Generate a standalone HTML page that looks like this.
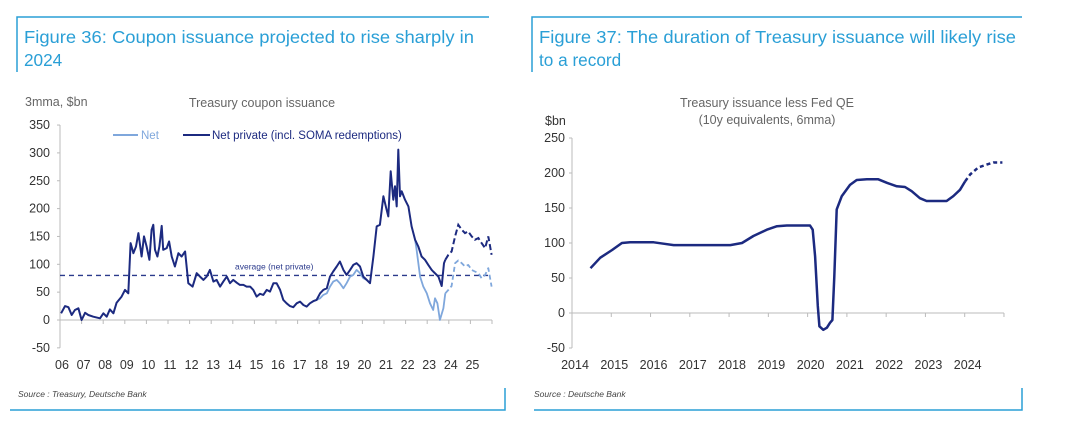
<!DOCTYPE html>
<html><head><meta charset="utf-8">
<style>
body{margin:0;background:#fff;width:1080px;height:423px;overflow:hidden;font-family:"Liberation Sans","Noto Sans CJK SC",sans-serif}
svg{position:absolute;left:0;top:0}
</style></head><body>
<svg id="s" width="1080" height="423" viewBox="0 0 1080 423">
<g stroke="#2a9fd6" stroke-width="1.5" fill="none">
<polyline points="17,72 17,17 489,17"/>
<polyline points="532,72 532,17 1022,17"/>
<polyline points="10,410 505,410 505,388"/>
<polyline points="534,410 1022,410 1022,388"/>
</g>
<g fill="#2a9fd6" font-size="17.2">
<text x="24" y="43" textLength="450" lengthAdjust="spacingAndGlyphs">Figure 36: Coupon issuance projected to rise sharply in</text>
<text x="24" y="66">2024</text>
<text x="539" y="43" textLength="477" lengthAdjust="spacingAndGlyphs">Figure 37: The duration of Treasury issuance will likely rise</text>
<text x="539" y="66">to a record</text>
</g>
<g fill="#666" font-size="12.5">
<text x="25" y="106">3mma, $bn</text>
<text x="262" y="107" text-anchor="middle">Treasury coupon issuance</text>
<text x="767" y="107" text-anchor="middle">Treasury issuance less Fed QE</text>
<text x="767" y="124" text-anchor="middle">(10y equivalents, 6mma)</text>
<text x="545" y="125" fill="#333">$bn</text>
</g>
<g font-size="8.5" font-style="italic" fill="#444">
<text x="18" y="397">Source : Treasury, Deutsche Bank</text>
<text x="534" y="397">Source : Deutsche Bank</text>
</g>
<g font-size="11.5">
<line x1="113" y1="135" x2="138" y2="135" stroke="#7fa7dc" stroke-width="2"/>
<text x="141" y="139" fill="#7fa7dc">Net</text>
<line x1="183" y1="135" x2="210" y2="135" stroke="#1c2a80" stroke-width="2"/>
<text x="212" y="139" fill="#1c2a80">Net private (incl. SOMA redemptions)</text>
</g>
<g id="L"></g><g id="R"></g>
</svg>
<script>
// Left chart data (x as years since 2006)
const leftYTicks=[350,300,250,200,150,100,50,0,-50];
const leftXLabels=["06","07","08","09","10","11","12","13","14","15","16","17","18","19","20","21","22","23","24","25"];
const averageNetPrivate=80;
const darkX=[.05,.23,.39,.54,.69,.85,1.0,1.16,1.31,1.54,1.85,2.01,2.16,2.31,2.47,2.62,2.85,3.01,3.16,3.27,3.40,3.52,3.63,3.78,3.89,4.01,4.14,4.24,4.32,4.40,4.51,4.60,4.71,4.78,4.94,5.05,5.17,5.32,5.48,5.63,5.79,5.94,6.14,6.33,6.48,6.64,6.79,6.94,7.10,7.25,7.41,7.56,7.72,7.87,8.02,8.18,8.33,8.49,8.64,8.80,8.95,9.10,9.26,9.41,9.57,9.72,9.88,10.03,10.19,10.34,10.49,10.65,10.80,10.96,11.11,11.27,11.42,11.57,11.73,11.88,12.04,12.19,12.35,12.50,12.65,12.81,12.96,13.12,13.27,13.43,13.58,13.73,13.89,14.04,14.20,14.35,14.51,14.66,14.81,14.97,15.12,15.20,15.31,15.43,15.51,15.59,15.66,15.74,15.82,15.97,16.13,16.28,16.44,16.59,16.74,16.90,17.05,17.21,17.28,17.52,17.67,17.78,17.84];
const darkY=[12,25,23,9,18,21,0,13,9,6,3,12,6,19,12,31,42,54,48,138,120,132,156,114,150,132,108,162,171,126,114,132,169,126,129,141,114,96,120,114,123,66,60,84,78,72,78,90,69,72,60,69,78,66,72,67,63,63,60,60,54,42,47,45,54,51,66,66,54,36,30,25,23,30,33,27,24,30,34,36,48,54,57,78,87,96,105,90,81,90,99,102,96,78,72,66,114,168,171,222,198,186,267,216,240,204,306,222,231,216,204,168,144,132,114,108,99,90,87,78,61,102,108];
const darkProjX=[17.84,17.98,18.13,18.29,18.44,18.60,18.75,18.90,19.06,19.21,19.37,19.52,19.68,19.83,19.98];
const darkProjY=[108,117,123,150,171,162,156,159,150,144,147,138,129,150,117];
const lightX=[11.73,11.88,12.04,12.19,12.35,12.50,12.65,12.81,12.96,13.12,13.27,13.43,13.58,13.73,13.89,14.04,14.20];
const lightY=[34,36,39,45,48,60,69,72,66,57,66,78,81,90,84,75,72];
const lightX2=[16.44,16.51,16.67,16.82,16.98,17.13,17.28,17.36,17.47,17.59,17.75,17.84];
const lightY2=[144,126,78,60,48,30,18,39,30,0,21,48];
const lightProjX=[17.84,17.98,18.13,18.29,18.44,18.60,18.75,18.90,19.06,19.21,19.37,19.52,19.68,19.83,19.98];
const lightProjY=[48,54,61,102,107,102,96,99,90,87,84,75,81,93,60];
// Right chart data
const rightYTicks=[250,200,150,100,50,0,-50];
const rightXLabels=["2014","2015","2016","2017","2018","2019","2020","2021","2022","2023","2024"];
const durX=[.47,.72,1.02,1.27,1.48,2.08,2.33,2.59,2.93,4.03,4.33,4.62,4.96,5.22,5.47,6.06,6.13,6.19,6.26,6.30,6.40,6.49,6.57,6.63,6.68,6.74,6.87,7.08,7.25,7.51,7.80,8.02,8.27,8.48,8.65,8.86,9.03,9.54,9.71,9.88,10.01];
const durY=[64,79,90,100,101,101,99,97,97,97,100,110,119,124,125,125,119,81,10,-19,-24,-21,-14,-10,52,148,167,183,190,191,191,186,181,180,174,164,160,160,167,176,188];
const durProjX=[10.01,10.14,10.35,10.56,10.73,10.96];
const durProjY=[188,198,208,212,215,215];

const NS="http://www.w3.org/2000/svg";
function mk(parent,tag,attrs){const e=document.createElementNS(NS,tag);for(const k in attrs)e.setAttribute(k,attrs[k]);parent.appendChild(e);return e;}
const lx=t=>60+t*21.6, ly=v=>320-v*0.557;
const rx=t=>572+t*39.27, ry=v=>313-v*0.7;
const L=document.getElementById('L'), R=document.getElementById('R');
function pts(xs,ys,fx,fy){return xs.map((x,i)=>fx(x).toFixed(1)+","+fy(ys[i]).toFixed(1)).join(" ");}

// left axes
let a=mk(L,'line',{x1:60,y1:ly(350),x2:60,y2:ly(-50),stroke:'#bbb'});


a=mk(L,'line',{x1:60,y1:ly(0),x2:lx(20),y2:ly(0),stroke:'#bbb'});


leftYTicks.forEach(v=>{const t=mk(L,'text',{x:50,y:ly(v)+4,'text-anchor':'end','font-size':12.5,fill:'#333'});t.textContent=v;


const k=mk(L,'line',{x1:57,x2:60,y1:ly(v),y2:ly(v),stroke:'#bbb'});

});
leftXLabels.forEach((s,i)=>{const t=mk(L,'text',{x:lx(i)+2,y:369,'text-anchor':'middle','font-size':12.5,fill:'#333'});t.textContent=s;


const k=mk(L,'line',{x1:lx(i+1),x2:lx(i+1),y1:ly(0),y2:ly(0)+4,stroke:'#bbb'});

});
// average line
a=mk(L,'line',{x1:60,x2:lx(20),y1:ly(averageNetPrivate),y2:ly(averageNetPrivate),stroke:'#2b3a8c','stroke-width':1.3,'stroke-dasharray':'5,4'});


a=mk(L,'text',{x:235,y:ly(averageNetPrivate)-6,'font-size':8.5,fill:'#2b3a8c'});a.textContent='average (net private)';


// light series
[[lightX,lightY,''],[lightX2,lightY2,''],[lightProjX,lightProjY,'5,3']].forEach(s=>{const p=mk(L,'polyline',{points:pts(s[0],s[1],lx,ly),fill:'none',stroke:'#7fa7dc','stroke-width':1.8,'stroke-dasharray':s[2]||'none','stroke-linejoin':'round'});

});
a=mk(L,'polyline',{points:pts(darkX,darkY,lx,ly),fill:'none',stroke:'#1c2a80','stroke-width':2,'stroke-linejoin':'round'});


a=mk(L,'polyline',{points:pts(darkProjX,darkProjY,lx,ly),fill:'none',stroke:'#1c2a80','stroke-width':2,'stroke-dasharray':'6,3'});



// right axes
a=mk(R,'line',{x1:572,y1:ry(250),x2:572,y2:ry(-50),stroke:'#bbb'});


a=mk(R,'line',{x1:572,y1:ry(0),x2:rx(11),y2:ry(0),stroke:'#bbb'});


rightYTicks.forEach(v=>{const t=mk(R,'text',{x:565,y:ry(v)+4,'text-anchor':'end','font-size':12.5,fill:'#333'});t.textContent=v;


const k=mk(R,'line',{x1:569,x2:572,y1:ry(v),y2:ry(v),stroke:'#bbb'});

});
rightXLabels.forEach((s,i)=>{const t=mk(R,'text',{x:rx(i)+3,y:369,'text-anchor':'middle','font-size':12.5,fill:'#333'});t.textContent=s;


const k=mk(R,'line',{x1:rx(i+1),x2:rx(i+1),y1:ry(0),y2:ry(0)+4,stroke:'#bbb'});

});
a=mk(R,'polyline',{points:pts(durX,durY,rx,ry),fill:'none',stroke:'#1c2a80','stroke-width':2.5,'stroke-linejoin':'round'});


a=mk(R,'polyline',{points:pts(durProjX,durProjY,rx,ry),fill:'none',stroke:'#1c2a80','stroke-width':2.5,'stroke-dasharray':'4,3'});


</script>
</body></html>
